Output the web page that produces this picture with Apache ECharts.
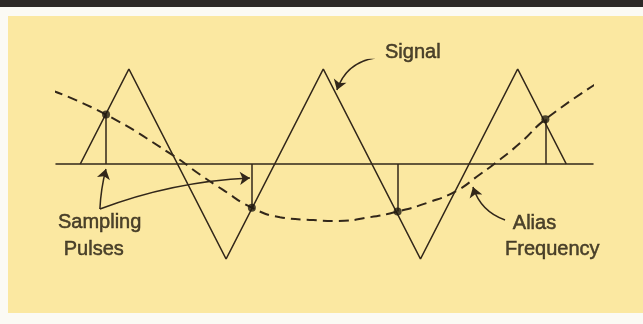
<!DOCTYPE html>
<html>
<head>
<meta charset="utf-8">
<script src="https://cdn.jsdelivr.net/npm/echarts@6/dist/echarts.min.js"></script>
<style>
  html, body { margin: 0; padding: 0; background: #fbfaf4; }
  #main { width: 643px; height: 324px; }
</style>
</head>
<body>
<div id="main"></div>
<script>
// time in quarter-periods of the signal, amplitude in signal units
const signalT = [-1, 0, 2, 4, 6, 8, 9];
const signalV = [0, 1, -1, 1, -1, 1, 0];

// sampling instants and sampled values
const sampleT = [-0.47, 2.53, 5.53, 8.57];
const sampleV = [0.52, -0.46, -0.5, 0.47];

// alias frequency curve
const aliasT = [-1.56, -0.47, 0.91, 1.46, 1.93, 2.53, 3.11, 3.79, 4.28, 4.96, 5.53, 6.19, 6.75, 7.22, 7.49, 8.05, 8.57, 9.63];
const aliasV = [0.77, 0.52, 0.09, -0.11, -0.27, -0.46, -0.56, -0.59, -0.6, -0.56, -0.5, -0.4, -0.28, -0.11, -0.01, 0.22, 0.47, 0.85];

// annotation texts
const labelNames = ['Signal', 'Sampling', 'Pulses', 'Alias', 'Frequency'];
const labelT = [5.27, -1.46, -1.34, 7.9, 7.74];
const labelV = [1.17, -0.615, -0.895, -0.63, -0.895];

// annotation arrows: [fromT, fromV, toT, toV, curveness]
const arrowSignal = [5.06, 1.116, 4.28, 0.779, -0.3];
const arrowPulseA = [-0.597, -0.474, -0.473, -0.053, 0.05];
const arrowPulseB = [-0.597, -0.474, 2.49, -0.147, 0.08];
const arrowAlias = [7.74, -0.589, 7.08, -0.242, 0.25];

const ink = '#32271a';

const zip = (a, b) => a.map((v, i) => [v, b[i]]);
const arrow = (a) => ({ coords: [[a[0], a[1]], [a[2], a[3]]], lineStyle: { curveness: a[4] } });

const chart = echarts.init(document.getElementById('main'), null, { renderer: 'canvas' });

const option = {
  animation: false,
  graphic: [
    { type: 'rect', shape: { x: 0, y: 0, width: 643, height: 7 }, style: { fill: '#2d2926' } },
    { type: 'rect', shape: { x: 8, y: 16, width: 635, height: 297 }, style: { fill: '#fbe8a1' } },
  ],
  grid: { left: 56, width: 537, top: 59.5, height: 209 },
  xAxis: {
    type: 'value', min: -1.5, max: 9.55,
    axisLine: { onZero: true, lineStyle: { color: ink, width: 1.5 } },
    axisTick: { show: false }, axisLabel: { show: false }, splitLine: { show: false },
  },
  yAxis: {
    type: 'value', min: -1.1, max: 1.1,
    axisLine: { show: false }, axisTick: { show: false }, axisLabel: { show: false }, splitLine: { show: false },
  },
  series: [
    {
      name: 'Alias', type: 'line', data: zip(aliasT, aliasV), smooth: true, symbol: 'none', clip: false,
      lineStyle: { color: ink, width: 2, type: [10, 6] },
    },
    {
      name: 'Signal', type: 'line', data: zip(signalT, signalV), symbol: 'none',
      lineStyle: { color: ink, width: 1.6 },
    },
    {
      name: 'Pulses', type: 'lines', coordinateSystem: 'cartesian2d', symbol: 'none',
      lineStyle: { color: ink, width: 1.5, opacity: 1 },
      data: sampleT.map((t, i) => ({ coords: [[t, 0], [t, sampleV[i]]] })),
    },
    {
      name: 'Samples', type: 'scatter', data: zip(sampleT, sampleV), symbol: 'circle', symbolSize: 8,
      itemStyle: { color: '#211a10' }, z: 5,
    },
    {
      name: 'Arrows', type: 'lines', coordinateSystem: 'cartesian2d',
      symbol: ['none', 'arrow'], symbolSize: [7, 10],
      lineStyle: { color: ink, width: 1.5, opacity: 1 },
      data: [arrow(arrowSignal), arrow(arrowPulseA), arrow(arrowPulseB), arrow(arrowAlias)],
    },
    {
      name: 'Labels', type: 'scatter', symbolSize: 0, clip: false,
      data: labelNames.map((n, i) => ({ name: n, value: [labelT[i], labelV[i]] })),
      label: {
        show: true, position: 'right', distance: 0, formatter: '{b}',
        color: '#221a0f', fontSize: 20, fontFamily: '"Liberation Sans", Arial, sans-serif',
        textBorderColor: '#221a0f', textBorderWidth: 0.5,
      },
    },
  ],
};

chart.setOption(option);
</script>
</body>
</html>
